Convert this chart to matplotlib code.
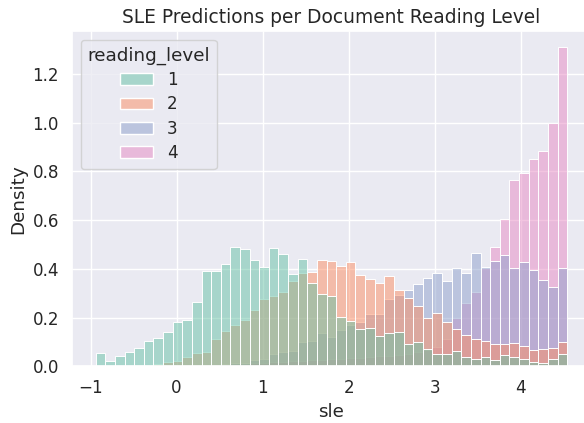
import matplotlib
matplotlib.use('Agg')
import matplotlib.pyplot as plt
import seaborn as sns
import numpy as np
import pandas as pd

# bin edges of the sle histogram (49 bins)
edges = np.linspace(-0.942, 4.540, 50)
centers = (edges[:-1] + edges[1:]) / 2

# density per bin
level1 = [0.053, 0.020, 0.041, 0.057, 0.076, 0.102, 0.115, 0.142, 0.181, 0.190,
          0.265, 0.392, 0.392, 0.418, 0.491, 0.480, 0.438, 0.409, 0.487, 0.460,
          0.380, 0.440, 0.340, 0.296, 0.290, 0.203, 0.186, 0.151, 0.155, 0.122,
          0.135, 0.139, 0.090, 0.098, 0.069, 0.050, 0.049, 0.061, 0.036, 0.028,
          0.039, 0.025, 0.047, 0.039, 0.031, 0.017, 0.012, 0.031, 0.050]
level2 = [0.0, 0.0, 0.0, 0.002, 0.004, 0.006, 0.010, 0.016, 0.020, 0.039,
          0.055, 0.057, 0.113, 0.143, 0.170, 0.191, 0.232, 0.276, 0.290, 0.306,
          0.348, 0.384, 0.388, 0.435, 0.434, 0.410, 0.430, 0.376, 0.358, 0.343,
          0.372, 0.312, 0.282, 0.246, 0.196, 0.217, 0.180, 0.154, 0.129, 0.110,
          0.103, 0.093, 0.090, 0.096, 0.083, 0.067, 0.069, 0.073, 0.099]
level3 = [0.0, 0.0, 0.0, 0.0, 0.0, 0.0, 0.0, 0.0, 0.0, 0.0,
          0.002, 0.004, 0.006, 0.010, 0.014, 0.013, 0.025, 0.031, 0.052, 0.058,
          0.063, 0.100, 0.104, 0.138, 0.119, 0.149, 0.170, 0.183, 0.214, 0.214,
          0.276, 0.293, 0.313, 0.336, 0.361, 0.384, 0.351, 0.402, 0.384, 0.463,
          0.408, 0.432, 0.455, 0.402, 0.426, 0.397, 0.356, 0.324, 0.402]
level4 = [0.0, 0.0, 0.0, 0.0, 0.0, 0.0, 0.0, 0.0, 0.0, 0.0,
          0.0, 0.003, 0.005, 0.007, 0.009, 0.011, 0.013, 0.015, 0.017, 0.019,
          0.021, 0.023, 0.025, 0.027, 0.029, 0.031, 0.033, 0.035, 0.037, 0.040,
          0.043, 0.047, 0.052, 0.058, 0.066, 0.080, 0.110, 0.197, 0.260, 0.303,
          0.402, 0.491, 0.606, 0.766, 0.792, 0.851, 0.884, 0.997, 1.310]

levels = ['1', '2', '3', '4']
rows = []
for lev, vals in zip(levels, [level1, level2, level3, level4]):
    for c, v in zip(centers, vals):
        rows.append((c, v, lev))
df = pd.DataFrame(rows, columns=['sle', 'w', 'reading_level'])

sns.set_theme(style='darkgrid', font_scale=1.1)

fig = plt.figure(figsize=(5.84, 4.23), dpi=100)
# axes runs a little past the right edge, as in the original crop
ax = fig.add_axes([72.1/584, (423-366.2)/423, 518.6/584, (366.2-31.3)/423])
sns.histplot(data=df, x='sle', weights='w', hue='reading_level', hue_order=levels,
             bins=list(edges), stat='count', palette='Set2', ax=ax)
sns.move_legend(ax, 'upper left', labelspacing=0.38)
ax.set_ylabel('Density')
ax.set_xlabel('sle')
ax.set_title('SLE Predictions per Document Reading Level', fontsize=13.4)
fig.savefig('out.png', dpi=100)
